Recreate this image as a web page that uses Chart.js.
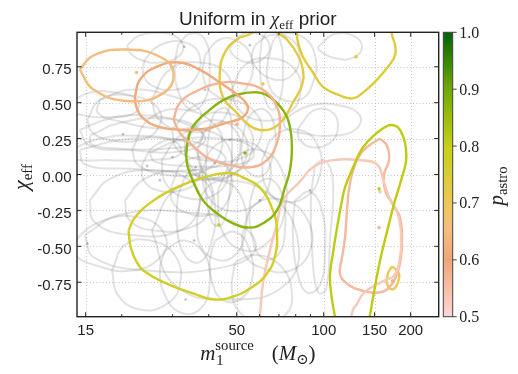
<!DOCTYPE html>
<html>
<head>
<meta charset="utf-8">
<script src="https://cdn.jsdelivr.net/npm/chart.js@4.4.0/dist/chart.umd.min.js"></script>
<style>
  html, body { margin: 0; padding: 0; background: #fff; }
  canvas { display: block; }
</style>
</head>
<body>
<canvas id="c" width="518" height="374"></canvas>
<script>
// axes
const massRange = [14, 250];
const chiRange = [-0.99, 0.99];
const massTicks = [15, 50, 100, 150, 200];
const massMinorTicks = [20, 30, 40, 60, 70, 80, 90];
const chiTicks = [-0.75, -0.5, -0.25, 0, 0.25, 0.5, 0.75];
const pastroTicks = [0.5, 0.6, 0.7, 0.8, 0.9, 1.0];

// 90% regions of the confident events, [m1 source, chi_eff]
const bbhContours = [
  [[14.3,0.31],[18.2,0.39],[25.0,0.41],[34.4,0.34],[38.8,0.24],[31.8,0.16],[21.3,0.17],[15.5,0.20]],
  [[14.3,0.17],[19.7,0.24],[29.3,0.25],[42.0,0.18],[45.5,0.09],[34.4,0.03],[21.3,0.04],[14.9,0.07]],
  [[16.8,0.52],[21.3,0.59],[29.3,0.55],[37.2,0.45],[35.8,0.34],[27.1,0.32],[19.7,0.37],[16.5,0.43]],
  [[15.5,-0.18],[18.2,-0.03],[25.0,0.03],[34.4,-0.04],[37.2,-0.21],[31.8,-0.39],[21.3,-0.42],[16.1,-0.33]],
  [[13.2,-0.49],[16.8,-0.33],[23.1,-0.30],[28.2,-0.42],[27.1,-0.58],[21.3,-0.67],[16.1,-0.63],[13.7,-0.56]],
  [[14.9,-0.42],[19.7,-0.28],[31.8,-0.26],[51.3,-0.35],[57.8,-0.53],[43.7,-0.65],[25.0,-0.67],[16.1,-0.58]],
  [[28.2,-0.53],[33.0,-0.46],[38.8,-0.56],[40.3,-0.77],[37.2,-0.94],[31.8,-0.96],[28.2,-0.84],[27.1,-0.67]],
  [[42.0,-0.46],[49.3,-0.40],[55.5,-0.53],[56.4,-0.74],[51.3,-0.87],[44.4,-0.87],[41.0,-0.74],[40.3,-0.60]],
  [[57.8,-0.07],[65.1,-0.03],[71.7,-0.14],[73.4,-0.39],[69.4,-0.56],[61.1,-0.58],[56.4,-0.42],[55.5,-0.21]],
  [[79.5,-0.18],[89.6,-0.12],[98.6,-0.25],[101,-0.53],[97.0,-0.77],[87.5,-0.82],[80.8,-0.67],[78.2,-0.39]],
  [[82.7,0.34],[93.3,0.45],[107.6,0.43],[111.9,0.32],[105.1,0.22],[91.1,0.19],[82.7,0.24],[81.4,0.30]],
  [[57.8,0.90],[65.1,0.97],[76.4,0.95],[82.7,0.83],[77.6,0.69],[67.8,0.66],[59.1,0.73],[56.4,0.82]],
  [[97.0,0.90],[109.4,0.98],[128.3,0.96],[135.6,0.88],[125.3,0.81],[109.4,0.81],[98.6,0.85],[95.5,0.88]],
  [[73.4,0.39],[89.6,0.48],[113.8,0.48],[133.5,0.41],[128.3,0.31],[105.1,0.27],[82.7,0.29],[73.4,0.33]],
  [[31.3,0.90],[34.4,0.98],[38.8,0.94],[40.3,0.73],[38.8,0.52],[35.0,0.45],[31.8,0.55],[30.5,0.73]],
  [[24.0,0.80],[27.1,0.90],[33.0,0.92],[37.2,0.83],[35.8,0.66],[30.5,0.59],[25.4,0.62],[23.7,0.71]],
  [[38.8,0.83],[43.7,0.94],[51.3,0.92],[56.4,0.80],[54.6,0.62],[48.1,0.53],[41.0,0.57],[38.2,0.69]],
  [[33.0,0.24],[37.2,0.39],[45.5,0.43],[54.6,0.34],[56.4,0.17],[50.5,0.02],[40.3,-0.03],[33.8,0.09]],
  [[27.5,0.10],[31.8,0.27],[38.8,0.31],[46.6,0.20],[47.3,0.02],[42.0,-0.14],[33.0,-0.16],[28.2,-0.05]],
  [[37.9,0.03],[42.0,0.20],[51.3,0.24],[62.6,0.14],[65.1,-0.05],[57.8,-0.21],[46.6,-0.25],[39.4,-0.14]],
  [[23.5,0.07],[26.0,0.20],[31.8,0.24],[36.7,0.14],[36.7,-0.03],[32.3,-0.11],[26.7,-0.11],[23.8,-0.04]],
  [[20.5,-0.18],[24.0,-0.03],[31.8,0.02],[39.7,-0.07],[40.3,-0.25],[34.4,-0.37],[26.0,-0.39],[21.3,-0.32]],
  [[29.8,0.31],[35.8,0.48],[47.3,0.52],[59.1,0.41],[60.1,0.24],[51.3,0.11],[38.8,0.10],[31.3,0.17]],
  [[43.0,-0.11],[49.3,0.11],[60.1,0.17],[71.7,0.03],[73.4,-0.25],[65.1,-0.46],[53.3,-0.53],[44.4,-0.39]],
  [[25.4,-0.39],[30.5,-0.11],[43.7,-0.04],[65.1,-0.14],[81.4,-0.46],[73.4,-0.77],[47.3,-0.87],[30.5,-0.77]],
  [[18.5,-0.67],[20.5,-0.49],[25.0,-0.46],[30.5,-0.56],[31.8,-0.77],[28.2,-0.91],[23.1,-0.94],[19.4,-0.84]],
  [[48.1,0.59],[53.3,0.76],[65.1,0.81],[79.5,0.73],[82.7,0.55],[73.4,0.41],[59.1,0.38],[50.5,0.46]],
  [[61.1,0.10],[67.8,0.27],[82.7,0.31],[95.5,0.20],[97.0,0.00],[86.1,-0.16],[70.5,-0.18],[62.6,-0.07]],
  [[25.4,0.52],[29.3,0.73],[37.2,0.78],[46.6,0.69],[47.3,0.48],[41.0,0.32],[31.8,0.31],[26.7,0.39]],
  [[15.2,0.38],[16.8,0.52],[21.3,0.55],[26.7,0.46],[26.7,0.32],[23.1,0.24],[18.2,0.24],[15.7,0.30]],
  [[52.1,-0.42],[57.8,-0.21],[73.4,-0.18],[88.2,-0.32],[89.6,-0.53],[76.4,-0.67],[61.1,-0.65],[53.3,-0.56]],
  [[36.4,-0.32],[38.8,-0.11],[45.5,-0.05],[52.5,-0.18],[53.3,-0.42],[48.1,-0.58],[41.0,-0.58],[37.0,-0.47]],
  [[21.7,0.17],[25.0,0.39],[33.0,0.45],[43.0,0.32],[43.7,0.14],[37.2,0.01],[28.2,0.00],[22.7,0.07]],
  [[13.2,0.17],[16.8,0.25],[23.1,0.27],[30.5,0.23],[31.8,0.14],[25.0,0.10],[18.2,0.10],[13.4,0.11]],
  [[48.1,0.90],[53.3,0.985],[61.1,0.97],[65.1,0.88],[61.1,0.80],[54.6,0.78],[49.3,0.82],[47.3,0.87]],
  [[64.1,0.80],[69.4,0.97],[82.7,0.97],[93.3,0.83],[91.1,0.62],[82.7,0.52],[70.5,0.53],[64.1,0.64]],
  [[93.3,0.07],[101,0.10],[107.6,-0.04],[105.1,-0.46],[101.8,-0.80],[95.5,-0.82],[91.1,-0.52],[90.3,-0.18]],
  [[20.9,0.90],[23.1,0.97],[28.2,0.985],[32.3,0.92],[31.8,0.83],[27.1,0.78],[23.1,0.80],[21.3,0.85]],
  [[13.2,0.50],[15.5,0.57],[18.9,0.57],[22.7,0.52],[22.2,0.43],[18.2,0.40],[14.9,0.41],[13.4,0.45]],
  [[49.3,-0.61],[57.8,-0.56],[70.5,-0.63],[77.6,-0.82],[73.4,-0.98],[60.1,-1.03],[51.3,-0.96],[48.1,-0.81]],
  [[61.1,0.94],[65.1,1.01],[70.5,0.94],[72.2,0.73],[70.5,0.52],[66.1,0.45],[62.1,0.55],[60.1,0.76]],
  [[33.0,0.17],[35.8,0.32],[42.0,0.38],[49.3,0.31],[51.3,0.16],[46.6,0.02],[38.8,-0.03],[34.4,0.04]],
  [[36.7,0.18],[39.7,0.32],[46.6,0.36],[53.3,0.27],[53.8,0.11],[48.1,0.00],[41.0,-0.02],[37.2,0.07]],
  [[39.7,0.24],[42.0,0.43],[46.6,0.45],[48.1,0.24],[47.3,-0.11],[44.4,-0.35],[41.0,-0.33],[39.1,-0.07]],
  [[25.0,0.15],[31.8,0.24],[43.7,0.25],[55.5,0.20],[56.4,0.11],[45.5,0.06],[33.0,0.06],[26.0,0.09]],
  [[29.8,-0.07],[33.0,0.09],[40.3,0.11],[47.3,0.02],[46.6,-0.18],[40.3,-0.28],[33.0,-0.26],[29.8,-0.18]],
  [[15.5,0.27],[19.7,0.36],[28.2,0.39],[37.2,0.32],[37.2,0.23],[28.2,0.18],[19.7,0.18],[15.7,0.21]],
  [[52.1,0.24],[55.5,0.41],[62.6,0.45],[67.8,0.31],[66.1,0.10],[61.1,-0.01],[54.6,0.02],[52.1,0.11]],
  [[31.3,-0.14],[34.4,0.02],[38.8,0.00],[42.0,-0.21],[41.0,-0.46],[37.2,-0.61],[33.0,-0.56],[31.0,-0.35]],
];
const bbhMedianMass = [32.9, 20.2, 15.2, 35.6, 33.3, 42.0, 47.3, 27.1, 60.1, 38.8, 55.5, 89.6, 24.5, 30.0, 36.0];
const bbhMedianChi  = [0.89, 0.28, -0.48, -0.46, -0.87, 0.08, 0.24, -0.04, -0.18, 0.59, 0.90, -0.11, 0.06, 0.12, 0.05];

// marginal candidates, coloured by p_astro
const candA = [[14.3,0.73],[16.0,0.83],[20.8,0.87],[27.1,0.82],[30.2,0.71],[28.0,0.57],[21.3,0.51],[16.0,0.59]];
const candB = [[22.2,0.54],[23.1,0.66],[26.4,0.75],[31.8,0.78],[37.2,0.73],[43.7,0.64],[51.3,0.54],[54.6,0.47],
  [52.5,0.40],[46.2,0.36],[39.4,0.32],[34.4,0.31],[27.1,0.33],[23.5,0.40],[22.4,0.48]];
const candC = [[30.2,0.38],[31.8,0.50],[37.2,0.59],[44.4,0.64],[50.0,0.64],[61.6,0.59],[68.9,0.47],[70.5,0.33],
  [68.9,0.22],[63.6,0.10],[55.5,0.05],[46.2,0.07],[39.4,0.12],[34.4,0.22],[31.8,0.29]];
const candD = [[54.2,0.57],[47.3,0.54],[40.3,0.45],[35.2,0.33],[33.6,0.19],[33.6,0.08],[35.2,-0.04],[38.2,-0.18],
  [42.7,-0.27],[48.5,-0.34],[55.5,-0.37],[61.6,-0.34],[68.9,-0.25],[73.4,-0.09],[76.4,0.03],[77.6,0.17],
  [76.4,0.33],[72.2,0.45],[65.1,0.54],[60.1,0.57]];
const candE = [[62.6,1.07],[56.4,0.985],[50.0,0.94],[45.5,0.85],[43.7,0.71],[44.8,0.54],[50.0,0.43],[55.5,0.34],
  [60.1,0.31],[66.2,0.32],[72.2,0.38],[78.2,0.50],[84.0,0.62],[84.7,0.73],[81.4,0.83],[74.6,0.94],[69.4,0.985],[62.6,1.07]];
const candF = [[80.1,1.07],[81.4,0.92],[84.7,0.82],[91.8,0.71],[99.4,0.61],[113.8,0.55],[126.3,0.53],[136.8,0.57],
  [152.9,0.66],[166.9,0.75],[176.5,0.83],[176.5,0.90],[172.4,0.97],[169.6,1.07]];
const candG = [[21.1,-0.39],[22.2,-0.30],[25.8,-0.18],[31.0,-0.09],[38.5,-0.02],[47.3,0.01],[52.5,-0.02],[60.1,-0.09],
  [66.7,-0.25],[68.9,-0.39],[67.8,-0.57],[63.6,-0.69],[56.9,-0.78],[48.5,-0.85],[41.7,-0.87],[35.5,-0.83],
  [28.6,-0.76],[23.8,-0.67],[22.4,-0.60],[21.5,-0.51]];
const candH = [[111.2,-1.08],[109.4,-0.99],[106.8,-0.87],[105.1,-0.71],[107.6,-0.55],[111.2,-0.37],[115.7,-0.18],
  [118.5,-0.09],[126.3,0.05],[136.8,0.19],[152.9,0.29],[166.9,0.34],[176.5,0.34],[183.7,0.31],[191.2,0.22],
  [192.8,0.10],[186.6,-0.02],[176.5,-0.18],[166.9,-0.37],[156.6,-0.60],[150.5,-0.78],[144.6,-0.98],[142.3,-1.08]];
const candI = [[59.1,-1.08],[60.1,-0.99],[61.6,-0.76],[65.1,-0.53],[68.9,-0.34],[72.2,-0.18],[82.7,-0.05],[91.8,0.05],
  [107.6,0.10],[133.5,0.10],[152.9,0.07],[160.4,-0.03],[167.0,-0.14],[180.8,-0.28],[185.2,-0.49],[180.8,-0.65],
  [174.1,-0.71],[165.6,-0.73],[148.1,-0.78],[136.8,-0.83],[130.4,-0.90],[126.3,-0.94],[124.3,-1.01],[123.3,-1.08]];
const candJ = [[156.6,0.25],[165.6,0.20],[168.3,0.10],[161.7,0.00],[163.0,-0.11],[172.4,-0.20],[183.7,-0.30],
  [186.6,-0.48],[183.7,-0.62],[177.9,-0.71],[169.6,-0.78],[156.6,-0.82],[136.8,-0.81],[120.4,-0.76],[113.8,-0.69],
  [115.7,-0.58],[118.5,-0.44],[120.4,-0.25],[123.3,-0.06],[130.4,0.10],[141.2,0.19]];
const candK = [[172.4,-0.64],[182.2,-0.69],[179.1,-0.77],[172.4,-0.80],[165.6,-0.76],[166.9,-0.69]];

const candContours = [candA, candB, candC, candD, candE, candF, candG, candH, candI, candJ, candK];
const candPastro   = [0.65, 0.61, 0.57, 0.87, 0.73, 0.74, 0.77, 0.81, 0.53, 0.56, 0.70];
const candClosed   = [true, true, true, true, false, false, true, false, false, true, true];

const candMedianMass   = [22.5, 50.1, 53.4, 61.6, 129.3, 43.3, 155.4, 156.6, 155.4, 173.4];
const candMedianChi    = [0.71, 0.35, 0.15, 0.63, 0.82, -0.35, -0.10, -0.12, -0.37, -0.74];
const candMedianPastro = [0.65, 0.57, 0.87, 0.73, 0.74, 0.77, 0.81, 0.53, 0.56, 0.62];

// colormap for p_astro
const cmap = [
  [0.5, [252, 215, 212]],
  [0.6, [240, 165, 120]],
  [0.65, [245, 188, 128]],
  [0.7, [238, 200, 85]],
  [0.8, [198, 208, 20]],
  [0.9, [110, 170, 10]],
  [1.0, [0, 100, 0]],
];
function pastroColor(p) {
  for (let i = 0; i < cmap.length - 1; i++) {
    const [p0, c0] = cmap[i], [p1, c1] = cmap[i + 1];
    if (p <= p1) {
      const t = Math.max(0, (p - p0) / (p1 - p0));
      const c = c0.map((v, k) => Math.round(v + t * (c1[k] - v)));
      return `rgb(${c[0]},${c[1]},${c[2]})`;
    }
  }
  return 'rgb(0,100,0)';
}

const toXY = (pts, closed) => {
  const d = pts.map(([m, chi]) => ({ x: m, y: chi }));
  if (closed) d.push({ x: pts[0][0], y: pts[0][1] });
  return d;
};

const lineBase = { showLine: true, pointRadius: 0, fill: false, tension: 0.45 };

const datasets = [];
candContours.forEach((c, i) => {
  datasets.push({ ...lineBase, data: toXY(c, candClosed[i]), borderColor: pastroColor(candPastro[i]),
    borderWidth: 2.4, order: 1 });
});
bbhContours.forEach(c => {
  datasets.push({ ...lineBase, data: toXY(c, true), borderColor: 'rgba(100,100,100,0.19)',
    borderWidth: 2, order: 3 });
});
datasets.push({
  data: bbhMedianMass.map((m, i) => ({ x: m, y: bbhMedianChi[i] })),
  showLine: false, pointRadius: 1.3, pointBorderWidth: 0,
  pointBackgroundColor: 'rgba(110,110,110,0.45)', order: 2,
});
datasets.push({
  data: candMedianMass.map((m, i) => ({ x: m, y: candMedianChi[i] })),
  showLine: false, pointRadius: 1.8, pointBorderWidth: 0,
  pointBackgroundColor: candMedianPastro.map(pastroColor), order: 0,
});

const SANS = '"Liberation Sans", Arial, sans-serif';
const SERIF = '"Liberation Serif", "DejaVu Serif", serif';

function drawParts(ctx, parts, x, y, align) {
  // parts: [text, font, dy, gapAfter]
  let w = 0;
  const widths = parts.map(p => { ctx.font = p[1]; const pw = ctx.measureText(p[0]).width; w += pw + (p[3] || 0); return pw; });
  let cx = align === 'center' ? x - w / 2 : x;
  ctx.textAlign = 'left';
  ctx.textBaseline = 'alphabetic';
  parts.forEach((p, i) => { ctx.font = p[1]; ctx.fillText(p[0], cx, y + (p[2] || 0)); cx += widths[i] + (p[3] || 0); });
}

const decor = {
  id: 'decor',
  beforeDatasetsDraw(chart) {
    const { ctx, chartArea: a, scales: { x, y } } = chart;
    ctx.save();
    ctx.strokeStyle = '#c4c4c4';
    ctx.lineWidth = 1;
    ctx.setLineDash([1, 2.2]);
    massTicks.forEach(v => {
      const px = Math.round(x.getPixelForValue(v)) + 0.5;
      ctx.beginPath(); ctx.moveTo(px, a.top); ctx.lineTo(px, a.bottom); ctx.stroke();
    });
    chiTicks.forEach(v => {
      const py = Math.round(y.getPixelForValue(v)) + 0.5;
      ctx.beginPath(); ctx.moveTo(a.left, py); ctx.lineTo(a.right, py); ctx.stroke();
    });
    ctx.restore();
  },
  afterDraw(chart) {
    const { ctx, chartArea: a, scales: { x, y } } = chart;
    ctx.save();
    const line = (x0, y0, x1, y1) => { ctx.beginPath(); ctx.moveTo(x0, y0); ctx.lineTo(x1, y1); ctx.stroke(); };

    // ticks (inward, all sides)
    ctx.strokeStyle = '#222';
    ctx.lineWidth = 1;
    massTicks.forEach(v => {
      const px = x.getPixelForValue(v);
      line(px, a.bottom, px, a.bottom - 4.5); line(px, a.top, px, a.top + 4.5);
    });
    massMinorTicks.forEach(v => {
      const px = x.getPixelForValue(v);
      line(px, a.bottom, px, a.bottom - 2.5); line(px, a.top, px, a.top + 2.5);
    });
    chiTicks.forEach(v => {
      const py = y.getPixelForValue(v);
      line(a.left, py, a.left + 4.5, py); line(a.right, py, a.right - 4.5, py);
    });

    // frame
    ctx.lineWidth = 1.4;
    ctx.strokeRect(a.left, a.top, a.right - a.left, a.bottom - a.top);

    // tick labels
    ctx.fillStyle = '#222';
    ctx.font = '15px ' + SANS;
    ctx.textAlign = 'center';
    ctx.textBaseline = 'alphabetic';
    massTicks.forEach(v => ctx.fillText(String(v), x.getPixelForValue(v), a.bottom + 18));
    ctx.textAlign = 'right';
    chiTicks.forEach(v => ctx.fillText(v.toFixed(2), a.left - 5.5, y.getPixelForValue(v) + 7.5));

    // title
    drawParts(ctx, [
      ['Uniform in ', '19px ' + SANS],
      ['\u03c7', 'italic 19px ' + SERIF],
      ['eff', '13px ' + SERIF, 4, 0],
      [' prior', '19px ' + SANS],
    ], (a.left + a.right) / 2, 25, 'center');

    // y label
    ctx.save();
    ctx.translate(28, 177);
    ctx.rotate(-Math.PI / 2);
    drawParts(ctx, [['\u03c7', 'italic 22px ' + SERIF], ['eff', '15px ' + SERIF, 4]], 0, 0, 'center');
    ctx.restore();

    // x label: m_1^source  (M_sun)
    {
      const big = 'italic 21px ' + SERIF, rom = '21px ' + SERIF, small = '14.7px ' + SERIF;
      ctx.font = big; const wm = ctx.measureText('m').width;
      ctx.font = small; const ws = ctx.measureText('source').width;
      ctx.font = rom; const wp = ctx.measureText('(').width, wq = ctx.measureText(')').width;
      ctx.font = big; const wM = ctx.measureText('M').width;
      ctx.font = small; const wo = ctx.measureText('\u2299').width;
      const gap = 18;
      const total = wm + ws + gap + wp + wM + wo + wq;
      let cx = (a.left + a.right) / 2 - total / 2;
      const base = 360;
      ctx.textAlign = 'left';
      ctx.font = big; ctx.fillText('m', cx, base);
      ctx.font = small; ctx.fillText('source', cx + wm, base - 10); ctx.fillText('1', cx + wm + 1, base + 5);
      cx += wm + ws + gap;
      ctx.font = rom; ctx.fillText('(', cx, base); cx += wp;
      ctx.font = big; ctx.fillText('M', cx, base); cx += wM;
      ctx.font = small; ctx.fillText('\u2299', cx, base + 4); cx += wo;
      ctx.font = rom; ctx.fillText(')', cx, base);
    }

    // colorbar
    const cb = { left: 443.3, right: 452.7, top: a.top, bottom: a.bottom };
    const pToY = p => cb.bottom - (p - 0.5) / 0.5 * (cb.bottom - cb.top);
    const grad = ctx.createLinearGradient(0, cb.bottom, 0, cb.top);
    cmap.forEach(([p, c]) => grad.addColorStop((p - 0.5) / 0.5, `rgb(${c[0]},${c[1]},${c[2]})`));
    ctx.fillStyle = grad;
    ctx.fillRect(cb.left, cb.top, cb.right - cb.left, cb.bottom - cb.top);
    ctx.strokeStyle = '#444';
    ctx.lineWidth = 1;
    ctx.strokeRect(cb.left, cb.top, cb.right - cb.left, cb.bottom - cb.top);
    ctx.fillStyle = '#222';
    ctx.font = '16px ' + SERIF;
    ctx.textAlign = 'left';
    pastroTicks.forEach(p => {
      const py = pToY(p);
      line(cb.right, py, cb.right + 4, py);
      ctx.fillText(p.toFixed(1), cb.right + 6.5, py + 5.5);
    });
    ctx.save();
    ctx.translate(503, 186);
    ctx.rotate(-Math.PI / 2);
    drawParts(ctx, [['p', 'italic 21px ' + SERIF], ['astro', '14.7px ' + SERIF, 4]], 0, 0, 'center');
    ctx.restore();

    ctx.restore();
  },
};

new Chart(document.getElementById('c'), {
  type: 'scatter',
  data: { datasets },
  options: {
    responsive: false,
    animation: false,
    events: [],
    layout: { padding: { left: 77, right: 79.3, top: 32.3, bottom: 57.3 } },
    plugins: { legend: { display: false }, tooltip: { enabled: false } },
    scales: {
      x: { type: 'logarithmic', min: massRange[0], max: massRange[1], display: false },
      y: { type: 'linear', min: chiRange[0], max: chiRange[1], display: false },
    },
  },
  plugins: [decor],
});
</script>
</body>
</html>
